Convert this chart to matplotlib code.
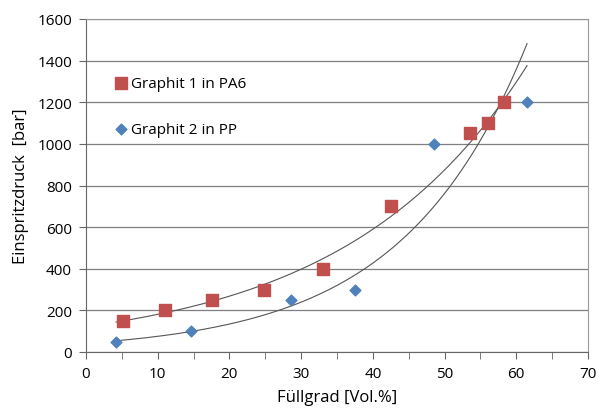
import matplotlib

matplotlib.use("Agg")
import matplotlib.pyplot as plt
import numpy as np

# Graphit 1 in PA6
pa6_x = [5.2, 11.0, 17.5, 24.8, 33.0, 42.5, 53.5, 56.0, 58.3]
pa6_y = [150, 200, 250, 300, 400, 700, 1050, 1100, 1200]
# Graphit 2 in PP
pp_x = [4.2, 14.7, 28.6, 37.5, 48.5, 61.5]
pp_y = [50, 100, 250, 300, 1000, 1200]

labels = ["Graphit 1 in PA6", "Graphit 2 in PP"]
colors = ["#C0504D", "#4F81BD"]

plt.rcParams["font.family"] = ["Open Sans", "DejaVu Sans"]

fig = plt.figure(figsize=(5.96, 4.10), dpi=100)
ax = fig.add_axes([86 / 596, 1 - 353 / 410, (588 - 86) / 596, (353 - 20) / 410])


def exp_fit(x, y):
    # Excel-style exponential trendline: least squares on ln(y)
    b, ln_a = np.polyfit(np.asarray(x), np.log(np.asarray(y, dtype=float)), 1)
    return np.exp(ln_a), b


xs = np.linspace(min(pa6_x + pp_x), max(pa6_x + pp_x), 200)
for x, y in [(pa6_x, pa6_y), (pp_x, pp_y)]:
    a, b = exp_fit(x, y)
    ax.plot(xs, a * np.exp(b * xs), color="#555555", linewidth=0.8, zorder=2)

ax.scatter(pa6_x, pa6_y, marker="s", s=80, color=colors[0], zorder=3, label=labels[0])
ax.scatter(pp_x, pp_y, marker="D", s=30, color=colors[1], zorder=3, label=labels[1])

ax.set_xlim(0, 70)
ax.set_ylim(0, 1600)
ax.set_xticks(range(0, 71, 10))
ax.set_xticks(range(5, 70, 10), minor=True)
ax.set_yticks(range(0, 1601, 200))
ax.yaxis.grid(True, color="#7f7f7f", linewidth=0.9)
ax.set_axisbelow(True)

for side in ["top", "right"]:
    ax.spines[side].set_color("#999999")
for side in ["left", "bottom"]:
    ax.spines[side].set_color("#666666")
ax.tick_params(axis="both", which="both", direction="out", length=5,
               color="#666666", labelsize=11, pad=5)

ax.set_xlabel("Füllgrad [Vol.%]", fontsize=12, labelpad=6)
ax.set_ylabel("Einspritzdruck  [bar]", fontsize=12, labelpad=6)

ax.legend(loc="upper left", bbox_to_anchor=(0.025, 0.87), frameon=False,
          fontsize=11, labelspacing=2.05, handletextpad=0.0, handlelength=1.2)

fig.savefig("out.png", dpi=100)
